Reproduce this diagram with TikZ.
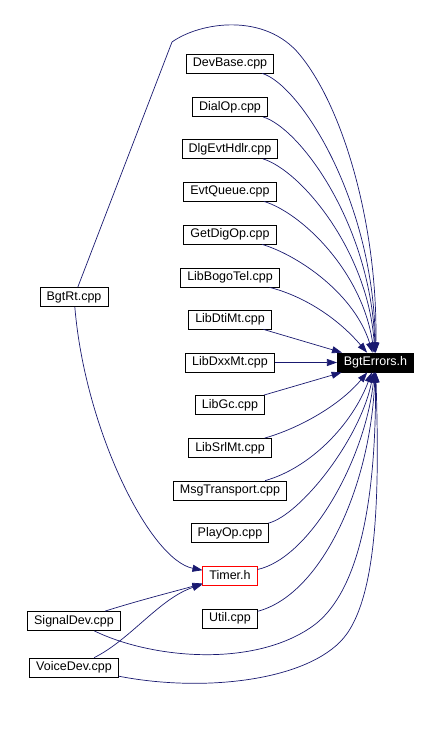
\documentclass[tikz,border=0pt]{standalone}
\usepackage{fontspec}
\setmainfont{Liberation Sans}
\usetikzlibrary{arrows.meta}
\definecolor{edgeblue}{HTML}{191970}

\begin{document}
\begin{tikzpicture}[x=1pt,y=-1pt,
    file/.style={draw,line width=0.8pt,inner xsep=6.5pt,inner ysep=0pt,minimum height=19pt,font=\fontsize{12.5}{14}\selectfont},
    dep/.style={->,>={Triangle[length=10pt,width=7pt]},edgeblue,line width=0.7pt}]
            \useasboundingbox (0,0) rectangle (439,732); %枠
            \node[file,fill=black,text=white] (bgterr) at (375.5,362.5) {BgtErrors.h}; %ヘッダ
            \node[file] (devbase) at (230,63.5) {DevBase.cpp};
            \node[file] (dialop) at (230,107) {DialOp.cpp};
            \node[file] (dlgevt) at (230,149) {DlgEvtHdlr.cpp};
            \node[file] (evtq) at (230,191.5) {EvtQueue.cpp};
            \node[file] (getdig) at (230,234.5) {GetDigOp.cpp};
            \node[file] (bogotel) at (230,277.5) {LibBogoTel.cpp};
            \node[file] (dtimt) at (230,319.5) {LibDtiMt.cpp};
            \node[file] (dxxmt) at (230,362.5) {LibDxxMt.cpp};
            \node[file] (libgc) at (230,405) {LibGc.cpp};
            \node[file] (srlmt) at (230,448) {LibSrlMt.cpp};
            \node[file] (msgtr) at (230,490.5) {MsgTransport.cpp};
            \node[file] (playop) at (230,533) {PlayOp.cpp};
            \node[file,draw=red] (timer) at (230,575.5) {Timer.h};
            \node[file] (util) at (230,618.5) {Util.cpp};
            \node[file] (bgtrt) at (74,297) {BgtRt.cpp}; %左列
            \node[file] (sigdev) at (74,621) {SignalDev.cpp};
            \node[file] (voicedev) at (74,667.5) {VoiceDev.cpp};
            % 中央列 -> BgtErrors.h
            \draw[dep] (devbase) .. controls (300,85) and (374,200) .. (bgterr);
            \draw[dep] (dialop) .. controls (300,128) and (371,225) .. (bgterr);
            \draw[dep] (dlgevt) .. controls (300,170) and (368,250) .. (bgterr);
            \draw[dep] (evtq) .. controls (300,212) and (362,270) .. (bgterr);
            \draw[dep] (getdig) .. controls (300,256) and (355,295) .. (bgterr);
            \draw[dep] (bogotel) .. controls (300,295) and (335,315) .. (bgterr);
            \draw[dep] (dtimt) -- (bgterr);
            \draw[dep] (dxxmt) -- (bgterr);
            \draw[dep] (libgc) -- (bgterr);
            \draw[dep] (srlmt) .. controls (300,428) and (340,405) .. (bgterr);
            \draw[dep] (msgtr) .. controls (310,468) and (352,425) .. (bgterr);
            \draw[dep] (playop) .. controls (300,515) and (360,440) .. (bgterr);
            \draw[dep] (timer) .. controls (310,558) and (365,460) .. (bgterr);
            \draw[dep] (util) .. controls (320,595) and (370,490) .. (bgterr);
            % 左列
            \draw[dep] (bgtrt) -- (172,42) .. controls (200,22) and (265,12) .. (300,55) .. controls (345,110) and (378,230) .. (bgterr); %上の弧
            \draw[dep] (bgtrt) .. controls (85,430) and (150,560) .. (timer);
            \draw[dep] (sigdev) .. controls (140,600) and (180,590) .. (timer);
            \draw[dep] (voicedev) .. controls (130,640) and (160,598) .. (timer);
            \draw[dep] (sigdev) .. controls (150,658) and (250,668) .. (310,628) .. controls (365,592) and (376,480) .. (bgterr);
            \draw[dep] (voicedev) .. controls (200,692) and (300,682) .. (340,642) .. controls (380,602) and (379,480) .. (bgterr);
\end{tikzpicture}
\end{document}
